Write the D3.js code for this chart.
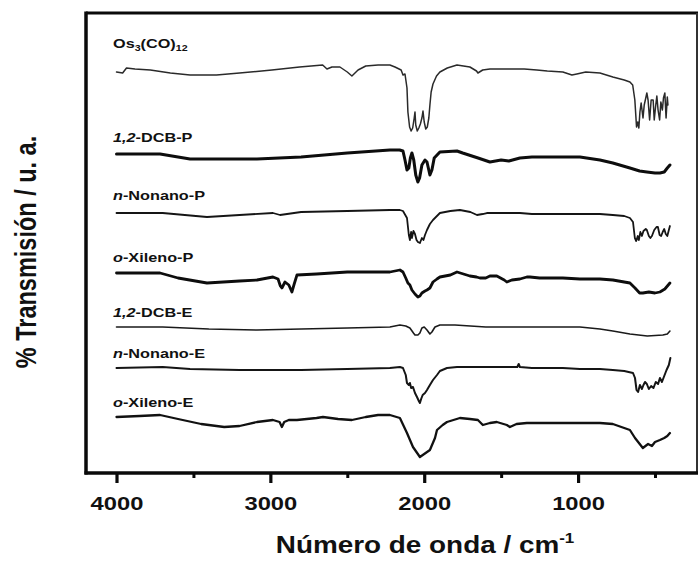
<!DOCTYPE html>
<html>
<head>
<meta charset="utf-8">
<script src="https://cdn.jsdelivr.net/npm/d3@7/dist/d3.min.js"></script>
<style>
  html, body { margin: 0; padding: 0; background: #fff; }
  svg { display: block; }
  text { font-family: "Liberation Sans", Arial, Helvetica, sans-serif; font-weight: bold; fill: #111; }
</style>
</head>
<body>
<svg id="chart" width="698" height="561"></svg>
<script>
// FTIR spectra, wavenumber (cm-1) vs. offset transmission (arbitrary units)
const os3co12 = [
  [4000,401],[3960,400],[3935,405],[3880,404],[3780,403],[3650,400],[3522,398],[3350,398],
  [3200,400],[2990,403],[2810,406],[2660,408],[2632,404],[2600,406],[2548,406],[2500,401],
  [2470,397],[2430,403],[2380,407],[2300,408],[2223,408],[2190,406],[2150,403],[2138,398],
  [2125,399],[2112,385],[2106,361],[2095,346],[2085,342],[2075,345],[2065,355],[2060,361],
  [2055,348],[2045,342],[2035,345],[2025,349],[2015,355],[2008,362],[2000,351],[1990,344],
  [1980,346],[1970,355],[1963,368],[1955,381],[1943,389],[1920,397],[1898,401],[1850,405],
  [1787,408],[1703,406],[1660,402],[1651,400],[1620,403],[1573,404],[1450,404],[1350,404],
  [1268,403],[1200,402],[1099,401],[1040,398],[1008,399],[950,401],[858,400],[774,396],
  [700,393],[663,391],[645,388],[631,373],[620,346],[612,351],[605,345],[598,361],[590,370],
  [578,355],[570,368],[560,375],[553,380],[545,373],[535,353],[525,373],[512,373],[505,353],
  [495,368],[488,377],[480,363],[470,353],[462,371],[452,363],[445,375],[436,380],[428,355],
  [420,376],[416,368]
];
const dcbP = [
  [4000,319],[3717,319],[3600,316],[3522,314],[3200,314],[3087,314],[2800,316],[2500,320],
  [2223,323],[2160,323],[2138,322],[2125,313],[2112,303],[2100,305],[2090,315],[2080,320],
  [2068,313],[2055,298],[2041,291],[2030,295],[2015,308],[1995,313],[1982,311],[1963,298],
  [1950,303],[1935,315],[1898,321],[1787,322],[1750,320],[1650,315],[1573,311],[1500,313],
  [1450,312],[1378,315],[1300,316],[1203,316],[1099,316],[988,316],[858,313],[774,310],
  [663,305],[600,302],[553,301],[500,300],[468,300],[440,301],[420,305],[403,308]
];
const nonanoP = [
  [4000,260],[3700,260],[3412,256],[3200,258],[2983,260],[2937,258],[2800,261],[2500,262],
  [2223,263],[2158,263],[2138,262],[2112,255],[2100,238],[2093,233],[2085,241],[2080,235],
  [2070,242],[2060,239],[2050,233],[2041,231],[2028,230],[2015,235],[2005,233],[1995,238],
  [1982,243],[1963,249],[1943,253],[1898,260],[1830,262],[1768,263],[1700,261],[1657,258],
  [1620,259],[1593,260],[1500,260],[1378,260],[1300,259],[1203,259],[1099,259],[1000,259],
  [858,259],[774,258],[700,257],[663,255],[643,251],[631,235],[622,232],[612,237],[605,233],
  [595,241],[585,237],[575,242],[560,244],[553,243],[540,237],[530,235],[520,237],[505,243],
  [490,246],[481,246],[470,238],[460,237],[450,241],[440,244],[430,239],[420,237],[410,243],
  [403,247]
];
const xilenoP = [
  [4000,200],[3850,200],[3717,200],[3600,195],[3412,190],[3200,192],[3087,193],[2983,196],
  [2950,194],[2935,187],[2925,185],[2905,191],[2880,188],[2860,181],[2845,189],[2827,198],
  [2700,199],[2500,201],[2223,201],[2158,203],[2138,201],[2120,195],[2106,190],[2093,188],
  [2080,183],[2060,179],[2041,176],[2028,177],[2015,180],[1995,182],[1982,183],[1963,185],
  [1943,191],[1917,194],[1898,196],[1830,198],[1787,201],[1703,197],[1660,196],[1638,195],
  [1600,195],[1573,197],[1528,197],[1480,193],[1463,191],[1430,193],[1378,194],[1333,196],
  [1313,196],[1250,195],[1099,195],[988,194],[858,194],[774,193],[663,190],[630,185],
  [600,180],[579,180],[540,181],[500,180],[468,181],[436,184],[403,190]
];
const dcbE = [
  [4000,146],[3700,146],[3400,144],[3087,143],[2800,144],[2500,145],[2223,146],[2158,148],
  [2120,147],[2093,145],[2070,140],[2060,138],[2041,138],[2028,140],[2015,145],[2000,146],
  [1982,143],[1963,139],[1950,141],[1930,146],[1898,148],[1800,148],[1600,146],[1400,146],
  [1200,146],[988,146],[858,144],[774,142],[663,139],[550,137],[449,138],[420,139],[403,142]
];
const nonanoE = [
  [4000,105],[3700,106],[3522,104],[3200,103],[2800,103],[2500,104],[2223,105],[2158,106],
  [2138,105],[2120,98],[2112,90],[2100,88],[2093,90],[2085,85],[2073,86],[2060,80],[2047,76],
  [2035,72],[2028,70],[2020,74],[2010,78],[1995,80],[1982,83],[1963,88],[1943,93],[1917,98],
  [1898,102],[1852,105],[1787,106],[1700,106],[1600,106],[1450,106],[1395,106],[1386,109],
  [1378,106],[1300,105],[1203,105],[1099,105],[988,104],[858,104],[774,103],[700,102],
  [643,100],[630,95],[620,83],[610,81],[598,88],[585,84],[575,88],[565,91],[553,89],[540,84],
  [525,87],[510,85],[495,91],[480,89],[468,95],[455,91],[440,97],[425,103],[410,108],[400,115]
];
const xilenoE = [
  [4000,56],[3850,57],[3717,58],[3600,54],[3450,49],[3300,46],[3200,47],[3087,51],[2983,53],
  [2940,51],[2925,46],[2910,51],[2880,53],[2827,53],[2700,55],[2658,56],[2560,54],[2470,53],
  [2380,56],[2300,58],[2223,58],[2158,55],[2112,40],[2073,26],[2028,16],[2000,19],[1963,23],
  [1930,35],[1917,43],[1880,48],[1852,51],[1768,55],[1703,54],[1651,53],[1619,48],[1573,50],
  [1528,51],[1463,48],[1443,46],[1400,49],[1333,50],[1250,50],[1099,50],[988,50],[858,50],
  [774,49],[663,43],[630,35],[579,25],[545,29],[520,27],[500,31],[468,33],[440,35],[420,37],
  [403,40]
];

const seriesData = [os3co12, dcbP, nonanoP, xilenoP, dcbE, nonanoE, xilenoE];

// Sample names as rich-text runs: [text, style]  (i = italic, s = subscript)
const sampleNames = [
  [["Os",""],["3","s"],["(CO)",""],["12","s"]],
  [["1,2","i"],["-DCB-P",""]],
  [["n","i"],["-Nonano-P",""]],
  [["o","i"],["-Xileno-P",""]],
  [["1,2","i"],["-DCB-E",""]],
  [["n","i"],["-Nonano-E",""]],
  [["o","i"],["-Xileno-E",""]]
];

const majorTicks = [4000, 3000, 2000, 1000];
const minorTicks = [3500, 2500, 1500, 500];
const xTitle = "Número de onda / cm";
const yTitle = "% Transmisión / u. a.";

// ---- layout ----
const frame = { left: 86, right: 697, top: 13, bottom: 473 };
const lineWidths = [1.5, 3, 1.8, 2.8, 1.6, 2, 2.3];
const lineColors = ["#2a2a2a", "#0d0d0d", "#151515", "#0d0d0d", "#1a1a1a", "#151515", "#111"];
const labelBaselines = [48, 142, 200, 262, 317, 358, 407];
const labelLeft = 113;
const stretch = 1.25; // horizontal glyph stretch

const svg = d3.select("#chart");

const x = d3.scaleLinear().domain([4000, 500]).range([116.5, 655]);
const y = d3.scaleLinear().domain([0, 460]).range([frame.bottom, frame.top]);

const line = d3.line()
  .x(d => x(d[0]))
  .y(d => y(d[1]))
  .curve(d3.curveLinear);

// spectra
svg.append("g")
  .selectAll("path")
  .data(seriesData)
  .join("path")
  .attr("d", line)
  .attr("fill", "none")
  .attr("stroke", (d, i) => lineColors[i])
  .attr("stroke-width", (d, i) => lineWidths[i])
  .attr("stroke-linejoin", "round")
  .attr("stroke-linecap", "round");

// sample labels
const labelG = svg.append("g")
  .selectAll("g")
  .data(sampleNames)
  .join("g")
  .attr("transform", (d, i) => `translate(${labelLeft},${labelBaselines[i]}) scale(${stretch},1)`);

labelG.append("text")
  .attr("x", 0).attr("y", 0)
  .style("font-size", "13px")
  .each(function(runs) {
    const t = d3.select(this);
    runs.forEach(([txt, st], j) => {
      const ts = t.append("tspan").text(txt);
      if (st === "i") ts.style("font-style", "italic");
      if (st === "s") ts.style("font-size", "8.5px").attr("dy", 3);
      else if (j > 0 && runs[j - 1][1] === "s") ts.attr("dy", -3);
    });
  });

// frame
svg.append("line").attr("x1", frame.left).attr("x2", frame.right + 1)
  .attr("y1", frame.top).attr("y2", frame.top)
  .attr("stroke", "#0a0a0a").attr("stroke-width", 3);
svg.append("line").attr("x1", frame.left).attr("x2", frame.left)
  .attr("y1", frame.top - 1.5).attr("y2", frame.bottom + 1.5)
  .attr("stroke", "#0a0a0a").attr("stroke-width", 3.5);
svg.append("line").attr("x1", frame.right).attr("x2", frame.right)
  .attr("y1", frame.top).attr("y2", frame.bottom)
  .attr("stroke", "#333").attr("stroke-width", 2);

// bottom axis with major and minor ticks
const axisMajor = d3.axisBottom(x).tickValues(majorTicks).tickSize(10).tickPadding(12)
  .tickFormat(d3.format("d"));
const axisMinor = d3.axisBottom(x).tickValues(minorTicks).tickSize(5).tickFormat("");

const gMinor = svg.append("g").attr("transform", `translate(0,${frame.bottom})`).call(axisMinor);
gMinor.select(".domain").remove();
gMinor.selectAll(".tick line").attr("stroke", "#0a0a0a").attr("stroke-width", 3);

const gMajor = svg.append("g").attr("transform", `translate(0,${frame.bottom})`).call(axisMajor);
gMajor.select(".domain").remove();
gMajor.selectAll(".tick line").attr("stroke", "#0a0a0a").attr("stroke-width", 3.2);
gMajor.selectAll(".tick text")
  .attr("fill", "#111")
  .attr("y", 0).attr("dy", 0)
  .attr("transform", `translate(0,37) scale(${stretch},1)`)
  .style("font-size", "19px")
  .style("font-family", "'Liberation Sans', Arial, sans-serif")
  .style("font-weight", "bold");

svg.append("line").attr("x1", frame.left - 1.5).attr("x2", frame.right + 1)
  .attr("y1", frame.bottom).attr("y2", frame.bottom)
  .attr("stroke", "#0a0a0a").attr("stroke-width", 3.5);

// axis titles
const xt = svg.append("g").attr("transform", `translate(425,553) scale(${stretch * 0.97},1)`)
  .append("text").attr("text-anchor", "middle").style("font-size", "23px");
xt.append("tspan").text(xTitle);
xt.append("tspan").text("-1").style("font-size", "14px").attr("dy", -10);

svg.append("g").attr("transform", `translate(36,252) scale(${stretch},1) rotate(-90)`)
  .append("text").attr("text-anchor", "middle").style("font-size", "23.5px")
  .text(yTitle);
</script>
</body>
</html>
